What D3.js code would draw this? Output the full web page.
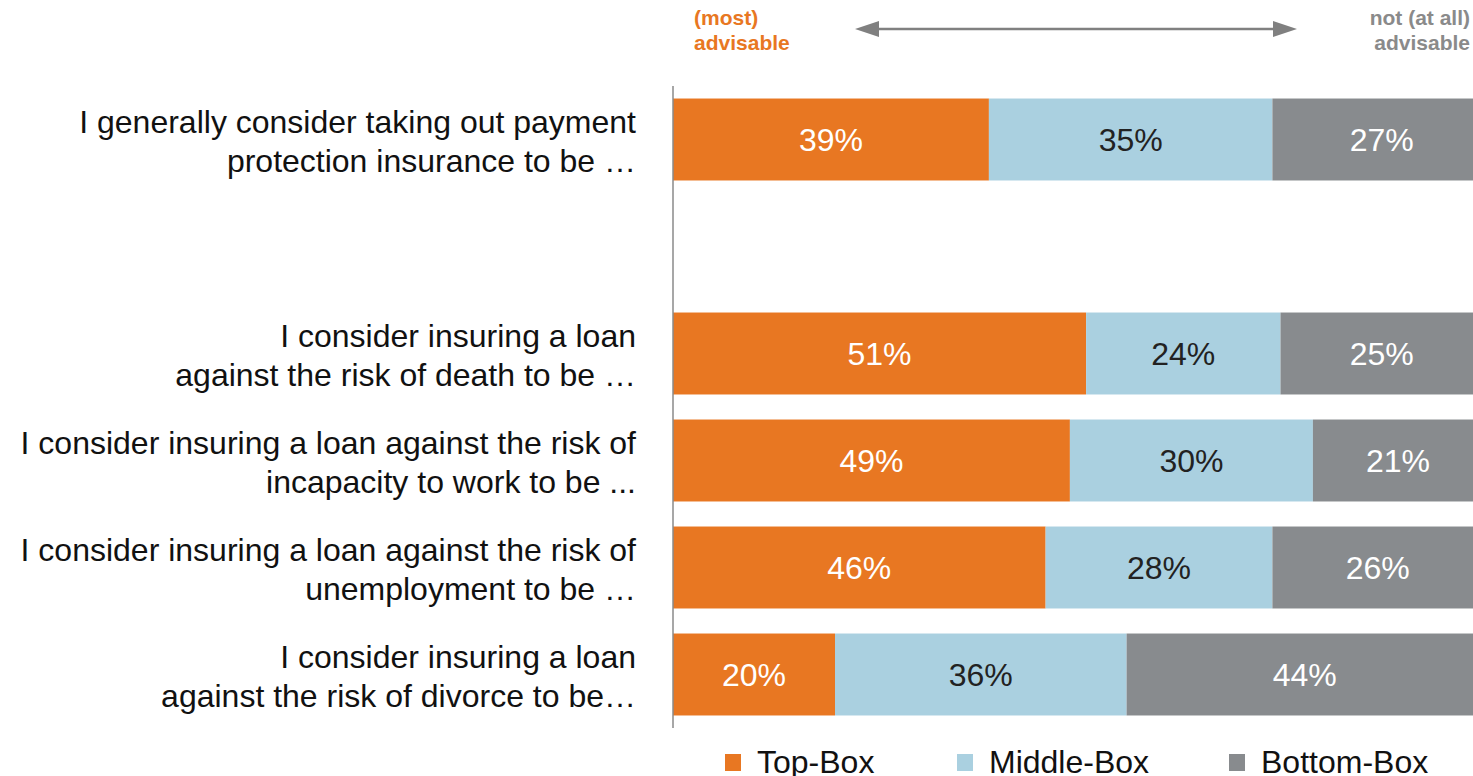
<!DOCTYPE html>
<html>
<head>
<meta charset="utf-8">
<script src="https://cdn.jsdelivr.net/npm/d3@7"></script>
<style>
  html, body { margin: 0; padding: 0; background: #fff; overflow: hidden; }
  svg { display: block; font-family: "Liberation Sans", Arial, sans-serif; }
</style>
</head>
<body>
<svg id="chart" width="1473" height="776"></svg>
<script>
// Statements (two lines each); an empty slot separates the general question from the loan risks
const statements = [
  ["I generally consider taking out payment", "protection insurance to be \u2026"],
  null,
  ["I consider insuring a loan", "against the risk of death to be \u2026"],
  ["I consider insuring a loan against the risk of", "incapacity to work to be ..."],
  ["I consider insuring a loan against the risk of", "unemployment to be \u2026"],
  ["I consider insuring a loan", "against the risk of divorce to be\u2026"]
];
const topBox    = [39, null, 51, 49, 46, 20];
const middleBox = [35, null, 24, 30, 28, 36];
const bottomBox = [27, null, 25, 21, 26, 44];
const seriesNames = ["Top-Box", "Middle-Box", "Bottom-Box"];
const seriesColors = ["#E87722", "#AAD0E0", "#888B8E"];
const labelColors = ["#ffffff", "#222222", "#ffffff"];

const svg = d3.select("#chart");

const rows = d3.range(statements.length);
const y = d3.scaleBand().domain(rows).range([86, 728]).paddingInner(0.234).paddingOuter(0.117);
const x = d3.scaleLinear().domain([0, 100]).range([673, 1483]);

// Stack each filled row into segments
const seriesValues = [topBox, middleBox, bottomBox];
const segments = [];
rows.forEach(i => {
  if (topBox[i] == null) return;
  let acc = 0;
  seriesValues.forEach((vals, s) => {
    segments.push({ row: i, s, v: vals[i], x0: acc, x1: acc + vals[i] });
    acc += vals[i];
  });
});

svg.append("g").selectAll("rect").data(segments).join("rect")
  .attr("x", d => x(d.x0))
  .attr("y", d => y(d.row))
  .attr("width", d => x(d.x1) - x(d.x0))
  .attr("height", y.bandwidth())
  .attr("fill", d => seriesColors[d.s]);

svg.append("g").selectAll("text").data(segments).join("text")
  .attr("x", d => (x(d.x0) + x(d.x1)) / 2)
  .attr("y", d => y(d.row) + y.bandwidth() / 2)
  .attr("dy", "0.36em")
  .attr("text-anchor", "middle")
  .attr("font-size", 32)
  .attr("fill", d => labelColors[d.s])
  .text(d => d.v + "%");

// Vertical baseline
svg.append("line")
  .attr("x1", x(0)).attr("x2", x(0))
  .attr("y1", y.range()[0]).attr("y2", y.range()[1])
  .attr("stroke", "#8a8a8a").attr("stroke-width", 1.5);

// Row labels
const lab = svg.append("g").selectAll("text")
  .data(rows.filter(i => statements[i]))
  .join("text")
  .attr("text-anchor", "end")
  .attr("font-size", 32)
  .attr("fill", "#111");
lab.each(function(i) {
  const cy = y(i) + y.bandwidth() / 2;
  d3.select(this).selectAll("tspan").data(statements[i]).join("tspan")
    .attr("x", 636)
    .attr("y", (d, k) => cy - 7 + k * 39)
    .text(d => d);
});

// Scale header
const hdr = svg.append("g").attr("font-weight", "bold").attr("font-size", 21);
hdr.append("text").attr("x", 694).attr("y", 25).attr("fill", "#E87722").text("(most)");
hdr.append("text").attr("x", 694).attr("y", 50).attr("fill", "#E87722").text("advisable");
hdr.append("text").attr("x", 1470).attr("y", 25).attr("text-anchor", "end").attr("fill", "#8a8a8a").text("not (at all)");
hdr.append("text").attr("x", 1470).attr("y", 50).attr("text-anchor", "end").attr("fill", "#8a8a8a").text("advisable");

// Double-headed arrow
const ay = 29, ax0 = 855, ax1 = 1297, ah = 24, aw = 8;
svg.append("line").attr("x1", ax0 + ah - 2).attr("x2", ax1 - ah + 2).attr("y1", ay).attr("y2", ay)
  .attr("stroke", "#808080").attr("stroke-width", 2.5);
svg.append("path").attr("d", `M${ax0},${ay} L${ax0 + ah},${ay - aw} L${ax0 + ah},${ay + aw} Z`).attr("fill", "#808080");
svg.append("path").attr("d", `M${ax1},${ay} L${ax1 - ah},${ay - aw} L${ax1 - ah},${ay + aw} Z`).attr("fill", "#808080");

// Legend
const legendX = [725, 957, 1229];
const leg = svg.append("g").selectAll("g").data(seriesNames).join("g")
  .attr("transform", (d, i) => `translate(${legendX[i]},754)`);
leg.append("rect").attr("width", 16).attr("height", 17).attr("fill", (d, i) => seriesColors[i]);
leg.append("text").attr("x", 32).attr("y", 19)
  .attr("font-size", 32).attr("fill", "#111").text(d => d);
</script>
</body>
</html>
